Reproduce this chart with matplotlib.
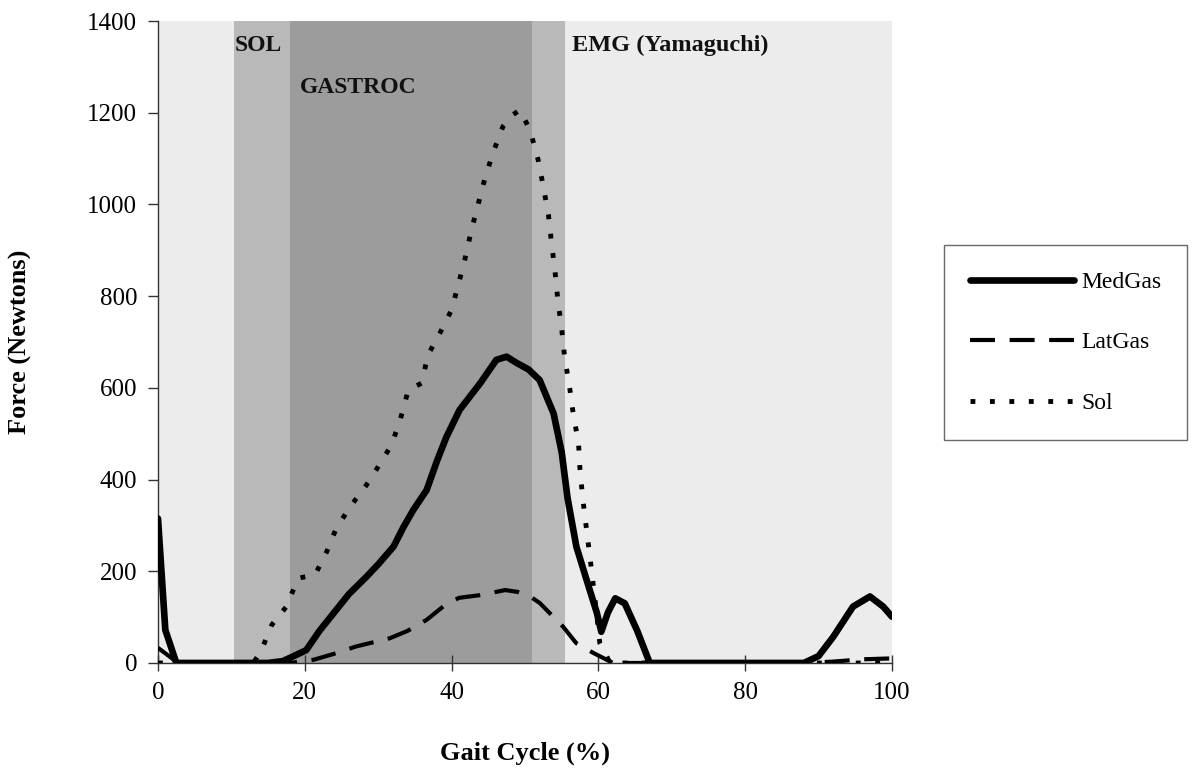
import matplotlib
matplotlib.use("Agg")
import matplotlib.pyplot as plt

# ---------------- data ----------------
medgas_x = [0, 1, 2.5, 5, 10, 15, 17, 18.5, 20.2, 22, 24.3, 26, 28.4, 30, 32.1, 33.4,
            34.8, 36.6, 38, 39.3, 41.1, 43.9, 46.1, 47.5, 48.9, 50.5, 52.0, 53.9, 55.0,
            55.8, 57.0, 58.4, 59.8, 60.4, 61.3, 62.3, 63.6, 65.3, 67, 75, 88, 90, 92,
            94.7, 97, 98.8, 100]
medgas_y = [315, 72, 0, 0, 0, 0, 4, 15, 28, 70, 116, 150, 188, 215, 254, 295,
            334, 377, 440, 493, 552, 610, 661, 668, 654, 640, 617, 544, 460,
            360, 254, 181, 109, 68, 110, 141, 130, 70, 0, 0, 0, 15, 57,
            123, 145, 123, 101]

latgas_x = [0, 2.5, 5, 15, 18, 21.2, 24, 27, 31.6, 34, 36.6, 39, 41, 43.9, 47.3, 49,
            50.7, 52.0, 55.2, 57.0, 59.3, 62, 75, 88, 92, 96, 100]
latgas_y = [33, 3, 0, 0, 0, 7, 20, 36, 54, 70, 94, 125, 142, 148, 159, 155,
            145, 131, 79, 43, 22, 0, 0, 0, 3, 8, 10]

sol_x = [0, 5, 10, 13, 14.1, 15.5, 17.5, 19.1, 21.4, 23, 24.3, 26.2, 28.4, 30.0, 31.8,
         33.0, 34.1, 35.9, 36.8, 38.4, 40.0, 40.9, 41.8, 42.7, 43.6, 44.6, 45.7, 47.0,
         48.3, 49.3, 50.7, 51.8, 52.5, 53.2, 53.6, 54.1, 54.5, 55.0, 55.4, 56.1, 56.6,
         57.3, 57.5, 57.9, 58.4, 58.9, 59.6, 60.2, 61.6, 75, 100]
sol_y = [0, 0, 0, 0, 28, 83, 123, 185, 192, 243, 294, 341, 388, 428, 475,
         530, 595, 610, 672, 719, 770, 824, 879, 944, 999, 1060, 1115, 1170,
         1195, 1206, 1162, 1097, 1039, 977, 919, 853, 788, 730, 668, 599, 541,
         479, 421, 355, 290, 225, 130, 43, 0, 0, 0]

x_ticks = [0, 20, 40, 60, 80, 100]
y_ticks = [0, 200, 400, 600, 800, 1000, 1200, 1400]

sol_emg = (10.4, 55.4)
gastroc_emg = (18.0, 51.0)

# ---------------- figure ----------------
serif = ["Liberation Serif", "DejaVu Serif"]
plt.rcParams["font.family"] = serif

fig = plt.figure(figsize=(11.95, 7.7), dpi=100)
ax = fig.add_axes([0.1322, 0.139, 0.6142, 0.8337])

ax.set_xlim(0, 100)
ax.set_ylim(0, 1400)

# shaded EMG regions
ax.axvspan(0, 100, color="#ececec", zorder=0, lw=0)
ax.axvspan(sol_emg[0], sol_emg[1], color="#b9b9b9", zorder=0.5, lw=0)
ax.axvspan(gastroc_emg[0], gastroc_emg[1], color="#9c9c9c", zorder=0.6, lw=0)

ax.text(10.5, 1347, "SOL", fontsize=17, fontweight="bold", va="center", ha="left", color="#111111")
ax.text(19.3, 1254, "GASTROC", fontsize=17, fontweight="bold", va="center", ha="left", color="#111111")
ax.text(56.4, 1347, "EMG (Yamaguchi)", fontsize=17.5, fontweight="bold", va="center", ha="left", color="#111111")

l1, = ax.plot(medgas_x, medgas_y, color="black", lw=4.8, solid_capstyle="round",
              solid_joinstyle="round", label="MedGas", zorder=3)
l2, = ax.plot(latgas_x, latgas_y, color="black", lw=3.0, linestyle=(0, (6, 3.5)),
              label="LatGas", zorder=3)
l3, = ax.plot(sol_x, sol_y, color="black", lw=3.5, linestyle=(0, (1, 3)),
              label="Sol", zorder=3)

for s in ["top", "right"]:
    ax.spines[s].set_visible(False)
for s in ["left", "bottom"]:
    ax.spines[s].set_color("#333333")
    ax.spines[s].set_linewidth(1.0)

ax.set_xticks(x_ticks)
ax.set_yticks(y_ticks)
ax.tick_params(axis="both", labelsize=18, direction="out", length=7, width=1, color="#333333")
ax.tick_params(axis="x", direction="inout", length=12, pad=8)
ax.tick_params(axis="y", pad=8)

ax.set_xlabel("Gait Cycle (%)", fontsize=19, fontweight="bold", labelpad=27)
ax.set_ylabel("Force (Newtons)", fontsize=19, fontweight="bold", labelpad=40)

leg = fig.legend(handles=[l1, l2, l3], loc="center left",
                 bbox_to_anchor=(0.79, 0.555), frameon=True, fancybox=False,
                 fontsize=17, handlelength=4.4, labelspacing=1.65,
                 borderpad=1.1, handletextpad=0.3, borderaxespad=0.0,
                 edgecolor="#444444")
leg.get_frame().set_linewidth(1.0)

fig.savefig("out.png", dpi=100, facecolor="white")
